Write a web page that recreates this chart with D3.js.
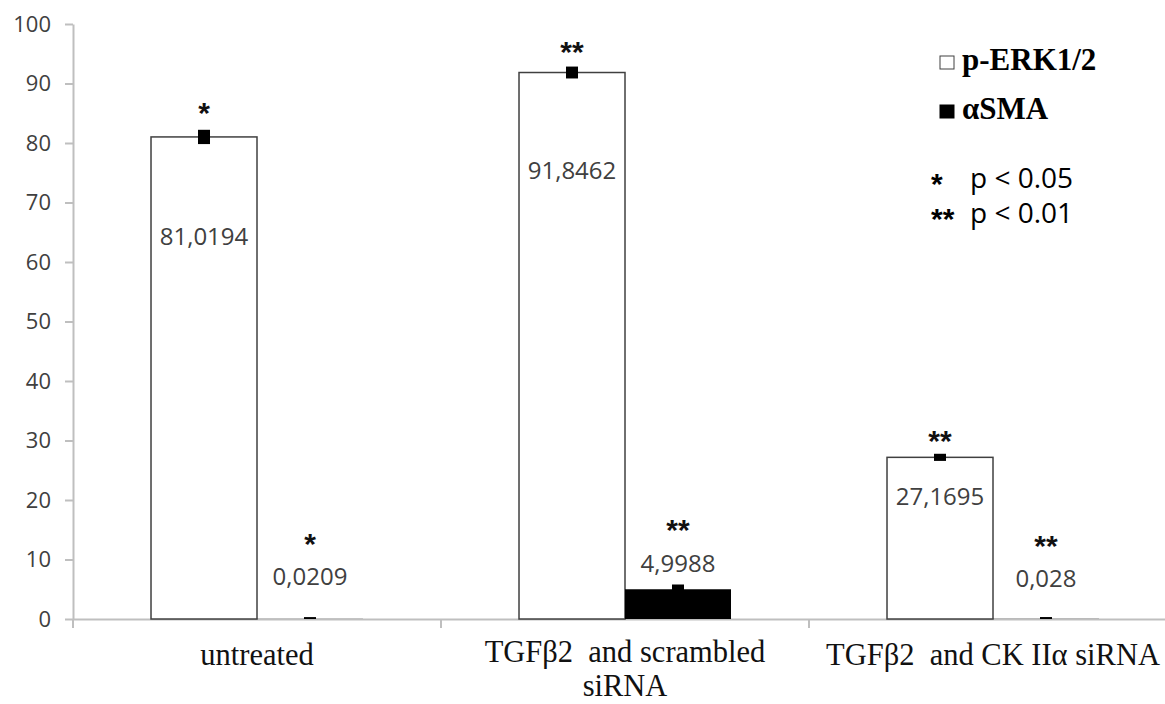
<!DOCTYPE html>
<html>
<head>
<meta charset="utf-8">
<script src="https://cdn.jsdelivr.net/npm/d3@7"></script>
<style>
  body { margin: 0; background: #fff; }
  svg { display: block; }
  .tick text { font-family: "Open Sans", sans-serif; fill: #404040; }
</style>
</head>
<body>
<script>
// data
const categories = ["untreated", "TGFβ2 and scrambled siRNA", "TGFβ2 and CK IIα siRNA"];
const categoryLines = [["untreated"], ["TGFβ2  and scrambled", "siRNA"], ["TGFβ2  and CK IIα siRNA"]];
const series = ["p-ERK1/2", "αSMA"];
const perk = [81.0194, 91.8462, 27.1695];
const asma = [0.0209, 4.9988, 0.028];
const perkErr = [1.2, 1.0, 0.6];
const asmaErr = [0.3, 0.8, 0.3];
const perkStars = ["*", "**", "**"];
const asmaStars = ["*", "**", "**"];
const perkLabels = ["81,0194", "91,8462", "27,1695"];
const asmaLabels = ["0,0209", "4,9988", "0,028"];
const yTicks = [0, 10, 20, 30, 40, 50, 60, 70, 80, 90, 100];
const sigMarks = ["*", "**"];
const sigText = ["p < 0.05", "p < 0.01"];

// label placement (px from top of the bar / error mark), as laid out in the figure
const perkLabelDy = [108, 106, 48];
const asmaLabelDy = [-34, -17, -32];
const perkStarDy = [-7, -5, -3];
const asmaStarDy = [-63, -44, -61];

const W = 1165, H = 704;
const plotLeft = 73, plotBottom = 619, plotTop = 24;

const svg = d3.select("body").append("svg")
  .attr("width", W).attr("height", H);

const x = d3.scaleBand().domain(categories).range([plotLeft, 1177]).paddingInner(0).paddingOuter(0);
const xs = d3.scaleBand().domain(series).range([0, x.bandwidth()]).paddingInner(0).paddingOuter(0.736);
const y = d3.scaleLinear().domain([0, 100]).range([plotBottom, plotTop]);

// y axis
const yAxis = svg.append("g")
  .attr("transform", "translate(" + plotLeft + ",0)")
  .call(d3.axisLeft(y).tickValues(yTicks).tickSize(8).tickPadding(14).tickSizeOuter(0));
yAxis.selectAll("path, line").attr("stroke", "#bfbfbf").attr("stroke-width", 2);
yAxis.selectAll("text").style("font-size", "22px");

// x axis: baseline + ticks at category boundaries
const xAxis = svg.append("g")
  .attr("transform", "translate(0," + plotBottom + ")")
  .call(d3.axisBottom(x).tickValues([]).tickSizeOuter(0));
xAxis.select("path").attr("stroke", "#bfbfbf").attr("stroke-width", 2);
const bounds = categories.map(c => x(c)).concat([x(categories[2]) + x.bandwidth()]);
xAxis.selectAll("line.bound").data(bounds).enter().append("line")
  .attr("class", "bound")
  .attr("x1", d => d).attr("x2", d => d)
  .attr("y1", 0).attr("y2", 9)
  .attr("stroke", "#bfbfbf").attr("stroke-width", 2);

// category labels (one text per line)
categories.forEach((c, i) => {
  const lines = categoryLines[i];
  const y0 = lines.length > 1 ? 662 : 665;
  lines.forEach((ln, j) => {
    svg.append("text")
      .attr("x", x(c) + x.bandwidth() / 2)
      .attr("y", y0 + j * 34)
      .attr("text-anchor", "middle")
      .style("font-family", "'Liberation Serif', 'Times New Roman', serif")
      .style("font-size", "30.5px")
      .style("white-space", "pre")
      .attr("fill", "#111")
      .text(ln);
  });
});

// bars
const rows = categories.map((c, i) => ({
  cat: c, i: i,
  bars: [
    {s: series[0], v: perk[i], e: perkErr[i], star: perkStars[i], lab: perkLabels[i], ldy: perkLabelDy[i], sdy: perkStarDy[i]},
    {s: series[1], v: asma[i], e: asmaErr[i], star: asmaStars[i], lab: asmaLabels[i], ldy: asmaLabelDy[i], sdy: asmaStarDy[i]}
  ]
}));

const groups = svg.selectAll("g.cat").data(rows).enter().append("g")
  .attr("class", "cat")
  .attr("transform", d => "translate(" + x(d.cat) + ",0)");

const bar = groups.selectAll("g.bar").data(d => d.bars).enter().append("g").attr("class", "bar");

bar.append("rect")
  .attr("x", d => xs(d.s))
  .attr("width", xs.bandwidth())
  .attr("y", d => y(d.v))
  .attr("height", d => plotBottom - y(d.v))
  .attr("fill", d => d.s === series[0] ? "#fff" : "#000")
  .attr("stroke", d => d.s === series[0] ? "#404040" : "none")
  .attr("stroke-width", 1.5);

// error markers (thick caps)
bar.append("rect")
  .attr("x", d => xs(d.s) + xs.bandwidth() / 2 - 6)
  .attr("width", 12)
  .attr("y", d => y(d.v + d.e))
  .attr("height", d => y(Math.max(0, d.v - d.e)) - y(d.v + d.e))
  .attr("fill", "#000");

// value labels
bar.append("text")
  .attr("x", d => xs(d.s) + xs.bandwidth() / 2)
  .attr("y", d => y(d.v) + d.ldy)
  .attr("text-anchor", "middle")
  .style("font-family", "'Open Sans', sans-serif")
  .style("font-size", "24px")
  .attr("fill", "#404040")
  .text(d => d.lab);

// significance stars
bar.append("text")
  .attr("x", d => xs(d.s) + xs.bandwidth() / 2)
  .attr("y", d => y(d.v + d.e) + d.sdy)
  .attr("text-anchor", "middle")
  .style("font-family", "'Liberation Sans', sans-serif")
  .style("font-weight", "bold")
  .style("font-size", "30px")
  .attr("fill", "#111")
  .text(d => d.star);

// legend
const legend = svg.append("g");
series.forEach((s, i) => {
  legend.append("rect")
    .attr("x", 940).attr("y", 56 + i * 49)
    .attr("width", 14).attr("height", 13)
    .attr("fill", i === 0 ? "#fff" : "#000")
    .attr("stroke", i === 0 ? "#404040" : "#000")
    .attr("stroke-width", 1);
  legend.append("text")
    .attr("x", 962).attr("y", 70 + i * 49)
    .style("font-family", "'Liberation Serif', 'Times New Roman', serif")
    .style("font-weight", "bold")
    .style("font-size", "31px")
    .attr("fill", "#000")
    .text(s);
});
sigMarks.forEach((m, i) => {
  legend.append("text")
    .attr("x", 931).attr("y", 194 + i * 35)
    .style("font-family", "'Liberation Sans', sans-serif")
    .style("font-weight", "bold")
    .style("font-size", "30px")
    .attr("fill", "#000")
    .text(m);
  legend.append("text")
    .attr("x", 970).attr("y", 188 + i * 35)
    .style("font-family", "'Open Sans', sans-serif")
    .style("font-size", "28px")
    .attr("fill", "#000")
    .text(sigText[i]);
});
</script>
</body>
</html>
